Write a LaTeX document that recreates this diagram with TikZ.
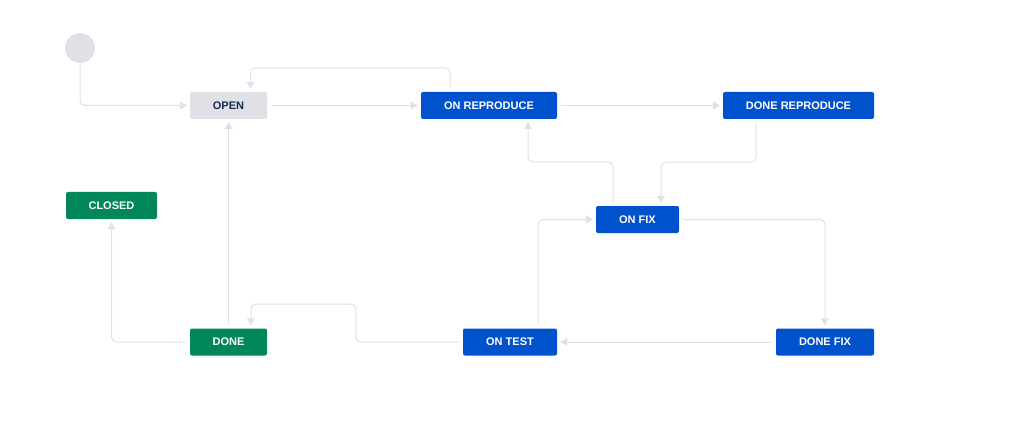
\documentclass[tikz,border=0pt]{standalone}
\usepackage{fontspec}
\setmainfont{Liberation Sans}
\usetikzlibrary{arrows.meta,positioning}
\definecolor{jblue}{HTML}{0052CC}
\definecolor{jgreen}{HTML}{00875A}
\definecolor{jgray}{HTML}{DFE1E6}
\definecolor{jtext}{HTML}{172B4D}
\begin{document}
\begin{tikzpicture}[x=1pt,y=-1pt,
  state/.style={rectangle,rounded corners=2pt,minimum height=27pt,inner sep=0pt,
    text=white,font=\bfseries\fontsize{11}{13}\selectfont},
  todo/.style={state,fill=jgray,text=jtext},
  doing/.style={state,fill=jblue},
  finished/.style={state,fill=jgreen},
  flow/.style={draw=jgray,line width=1pt,rounded corners=5pt,
    -{Triangle[length=7pt,width=8pt]},shorten >=3pt,shorten <=4pt}]
\useasboundingbox (0,0) rectangle (1026,425);
\node[circle,fill=jgray,minimum size=30pt,inner sep=0pt] (start) at (80,48) {};
\node[todo,minimum width=77pt] (open) at (228.5,105.5) {OPEN};
\node[doing,minimum width=136pt] (onrep) at (489,105.5) {ON REPRODUCE};
\node[doing,minimum width=151pt] (donerep) at (798.5,105.5) {DONE REPRODUCE};
\node[doing,minimum width=83pt] (onfix) at (637.5,219.5) {ON FIX};
\node[finished,minimum width=91pt] (closed) at (111.5,205.5) {CLOSED};
\node[finished,minimum width=77pt] (done) at (228.5,342) {DONE};
\node[doing,minimum width=94pt] (ontest) at (510,342) {ON TEST};
\node[doing,minimum width=98pt] (donefix) at (825,342) {DONE FIX};
% transitions
\draw[flow,shorten <=0pt] (start.south) |- (open.west);
\draw[flow] (open.east) -- (onrep.west);
\draw[flow] ([xshift=-39pt]onrep.north) -- ++(0,-24) -| ([xshift=22pt]open.north);
\draw[flow] (onrep.east) -- (donerep.west);
\draw[flow] ([xshift=-42.5pt]donerep.south) -- ++(0,43) -| ([xshift=23.5pt]onfix.north);
\draw[flow] ([xshift=-24.5pt]onfix.north) -- ++(0,-44) -| ([xshift=39pt]onrep.south);
\draw[flow] (onfix.east) -| (donefix.north);
\draw[flow] (donefix.west) -- (ontest.east);
\draw[flow] ([xshift=28pt]ontest.north) |- (onfix.west);
\draw[flow] (ontest.west) -- ++(-107,0) -- ++(0,-38) -| ([xshift=22.5pt]done.north);
\draw[flow] (done.north) -- (open.south);
\draw[flow] (done.west) -| (closed.south);
\end{tikzpicture}
\end{document}
